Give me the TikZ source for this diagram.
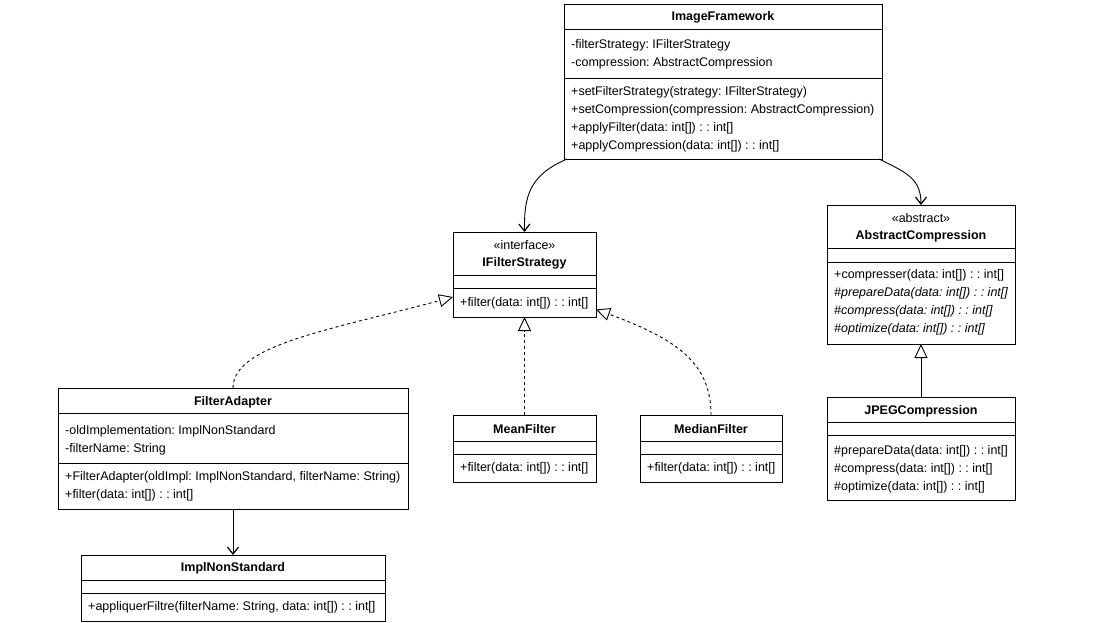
\documentclass[tikz,border=0pt]{standalone}
\usepackage{fontspec}
\setmainfont{Liberation Sans}
\usetikzlibrary{arrows.meta}
\frenchspacing
\begin{document}
\begin{tikzpicture}[x=1pt,y=-1pt,
  cls/.style={draw=black,line width=0.9pt,fill=white,anchor=north west,inner sep=0pt,outer sep=0pt},
  sep/.style={draw=black,line width=0.9pt},
  txt/.style={anchor=west,inner sep=0pt,font=\fontsize{12.5}{14}\selectfont},
  hdr/.style={inner sep=0pt,font=\fontsize{12.5}{14}\selectfont\bfseries},
  ster/.style={inner sep=0pt,font=\fontsize{12.5}{14}\selectfont},
  assoc/.style={draw=black,line width=0.9pt,-{Straight Barb[length=7pt,width=11pt,line width=1.2pt]}},
  real/.style={draw=black,line width=0.9pt,dashed,dash pattern=on 3pt off 3pt,-{Triangle[open,length=14pt,width=13pt,fill=white,line width=0.9pt]}},
  gen/.style={draw=black,line width=0.9pt,-{Triangle[open,length=14pt,width=13pt,fill=white,line width=0.9pt]}}
]
\useasboundingbox[fill=white] (0,0) rectangle (1096,623);

% ImageFramework
\node[cls,minimum width=318pt,minimum height=155pt] (IF) at (564,4) {};
\draw[sep] (564,29) -- (882,29);
\draw[sep] (564,78) -- (882,78);
\node[hdr] (IFh) at (723,17.5) {ImageFramework};
\node[txt] (IFa1) at (571,45.5) {-filterStrategy: IFilterStrategy};
\node[txt] (IFa2) at (571,63.5) {-compression: AbstractCompression};
\node[txt] (IFm1) at (571,92.5) {+setFilterStrategy(strategy: IFilterStrategy)};
\node[txt] (IFm2) at (571,110.5) {+setCompression(compression: AbstractCompression)};
\node[txt] (IFm3) at (571,128.5) {+applyFilter(data: int[]) : : int[]};
\node[txt] (IFm4) at (571,146.5) {+applyCompression(data: int[]) : : int[]};

% IFilterStrategy
\node[cls,minimum width=143pt,minimum height=85pt] (IFS) at (453,232) {};
\draw[sep] (453,275) -- (596,275);
\draw[sep] (453,288) -- (596,288);
\node[ster] (IFSs) at (524.5,245.5) {«interface»};
\node[hdr] (IFSh) at (524.5,263.5) {IFilterStrategy};
\node[txt] (IFSm1) at (460,303.5) {+filter(data: int[]) : : int[]};

% AbstractCompression
\node[cls,minimum width=188pt,minimum height=139pt] (AC) at (827,205) {};
\draw[sep] (827,248) -- (1015,248);
\draw[sep] (827,262) -- (1015,262);
\node[ster] (ACs) at (921,218.5) {«abstract»};
\node[hdr] (ACh) at (921,236.5) {AbstractCompression};
\node[txt] (ACm1) at (834,275.5) {+compresser(data: int[]) : : int[]};
\node[txt] (ACm2) at (834,293.5) {\itshape \#prepareData(data: int[]) : : int[]};
\node[txt] (ACm3) at (834,311.5) {\itshape \#compress(data: int[]) : : int[]};
\node[txt] (ACm4) at (834,329.5) {\itshape \#optimize(data: int[]) : : int[]};

% FilterAdapter
\node[cls,minimum width=350pt,minimum height=121pt] (FA) at (58,388) {};
\draw[sep] (58,413) -- (408,413);
\draw[sep] (58,463) -- (408,463);
\node[hdr] (FAh) at (233,402.5) {FilterAdapter};
\node[txt] (FAa1) at (65,431.5) {-oldImplementation: ImplNonStandard};
\node[txt] (FAa2) at (65,449.5) {-filterName: String};
\node[txt] (FAm1) at (65,477.5) {+FilterAdapter(oldImpl: ImplNonStandard, filterName: String)};
\node[txt] (FAm2) at (65,495.5) {+filter(data: int[]) : : int[]};

% MeanFilter
\node[cls,minimum width=143pt,minimum height=67pt] (MF) at (453,415) {};
\draw[sep] (453,441) -- (596,441);
\draw[sep] (453,454) -- (596,454);
\node[hdr] (MFh) at (524.5,429.5) {MeanFilter};
\node[txt] (MFm1) at (460,468.5) {+filter(data: int[]) : : int[]};

% MedianFilter
\node[cls,minimum width=142pt,minimum height=67pt] (MdF) at (640,415) {};
\draw[sep] (640,441) -- (782,441);
\draw[sep] (640,454) -- (782,454);
\node[hdr] (MdFh) at (711,429.5) {MedianFilter};
\node[txt] (MdFm1) at (647,468.5) {+filter(data: int[]) : : int[]};

% JPEGCompression
\node[cls,minimum width=188pt,minimum height=103pt] (JC) at (827,397) {};
\draw[sep] (827,422) -- (1015,422);
\draw[sep] (827,435) -- (1015,435);
\node[hdr] (JCh) at (921,411.5) {JPEGCompression};
\node[txt] (JCm1) at (834,451.5) {\#prepareData(data: int[]) : : int[]};
\node[txt] (JCm2) at (834,469.5) {\#compress(data: int[]) : : int[]};
\node[txt] (JCm3) at (834,487.5) {\#optimize(data: int[]) : : int[]};

% ImplNonStandard
\node[cls,minimum width=304pt,minimum height=66pt] (INS) at (81,555) {};
\draw[sep] (81,580) -- (385,580);
\draw[sep] (81,593) -- (385,593);
\node[hdr] (INSh) at (233,568.5) {ImplNonStandard};
\node[txt] (INSm1) at (88,607.5) {+appliquerFiltre(filterName: String, data: int[]) : : int[]};

% connectors
\draw[assoc] ([xshift=3pt]IF.south west) .. controls (530,175) and (524,195) .. (IFS.north);
\draw[assoc] ([xshift=-3pt]IF.south east) .. controls (905,172) and (921,178) .. (AC.north);
\draw[real] (FA.north) .. controls (233,345) and (330,330) .. ([yshift=-22.5pt]IFS.west);
\draw[real] (MF.north) -- (IFS.south);
\draw[real] (MdF.north) .. controls (711,365) and (680,340) .. ([yshift=-35pt]IFS.east);
\draw[gen] (JC.north) -- (AC.south);
\draw[assoc] (FA.south) -- (FA.south |- INS.north);
\end{tikzpicture}
\end{document}
